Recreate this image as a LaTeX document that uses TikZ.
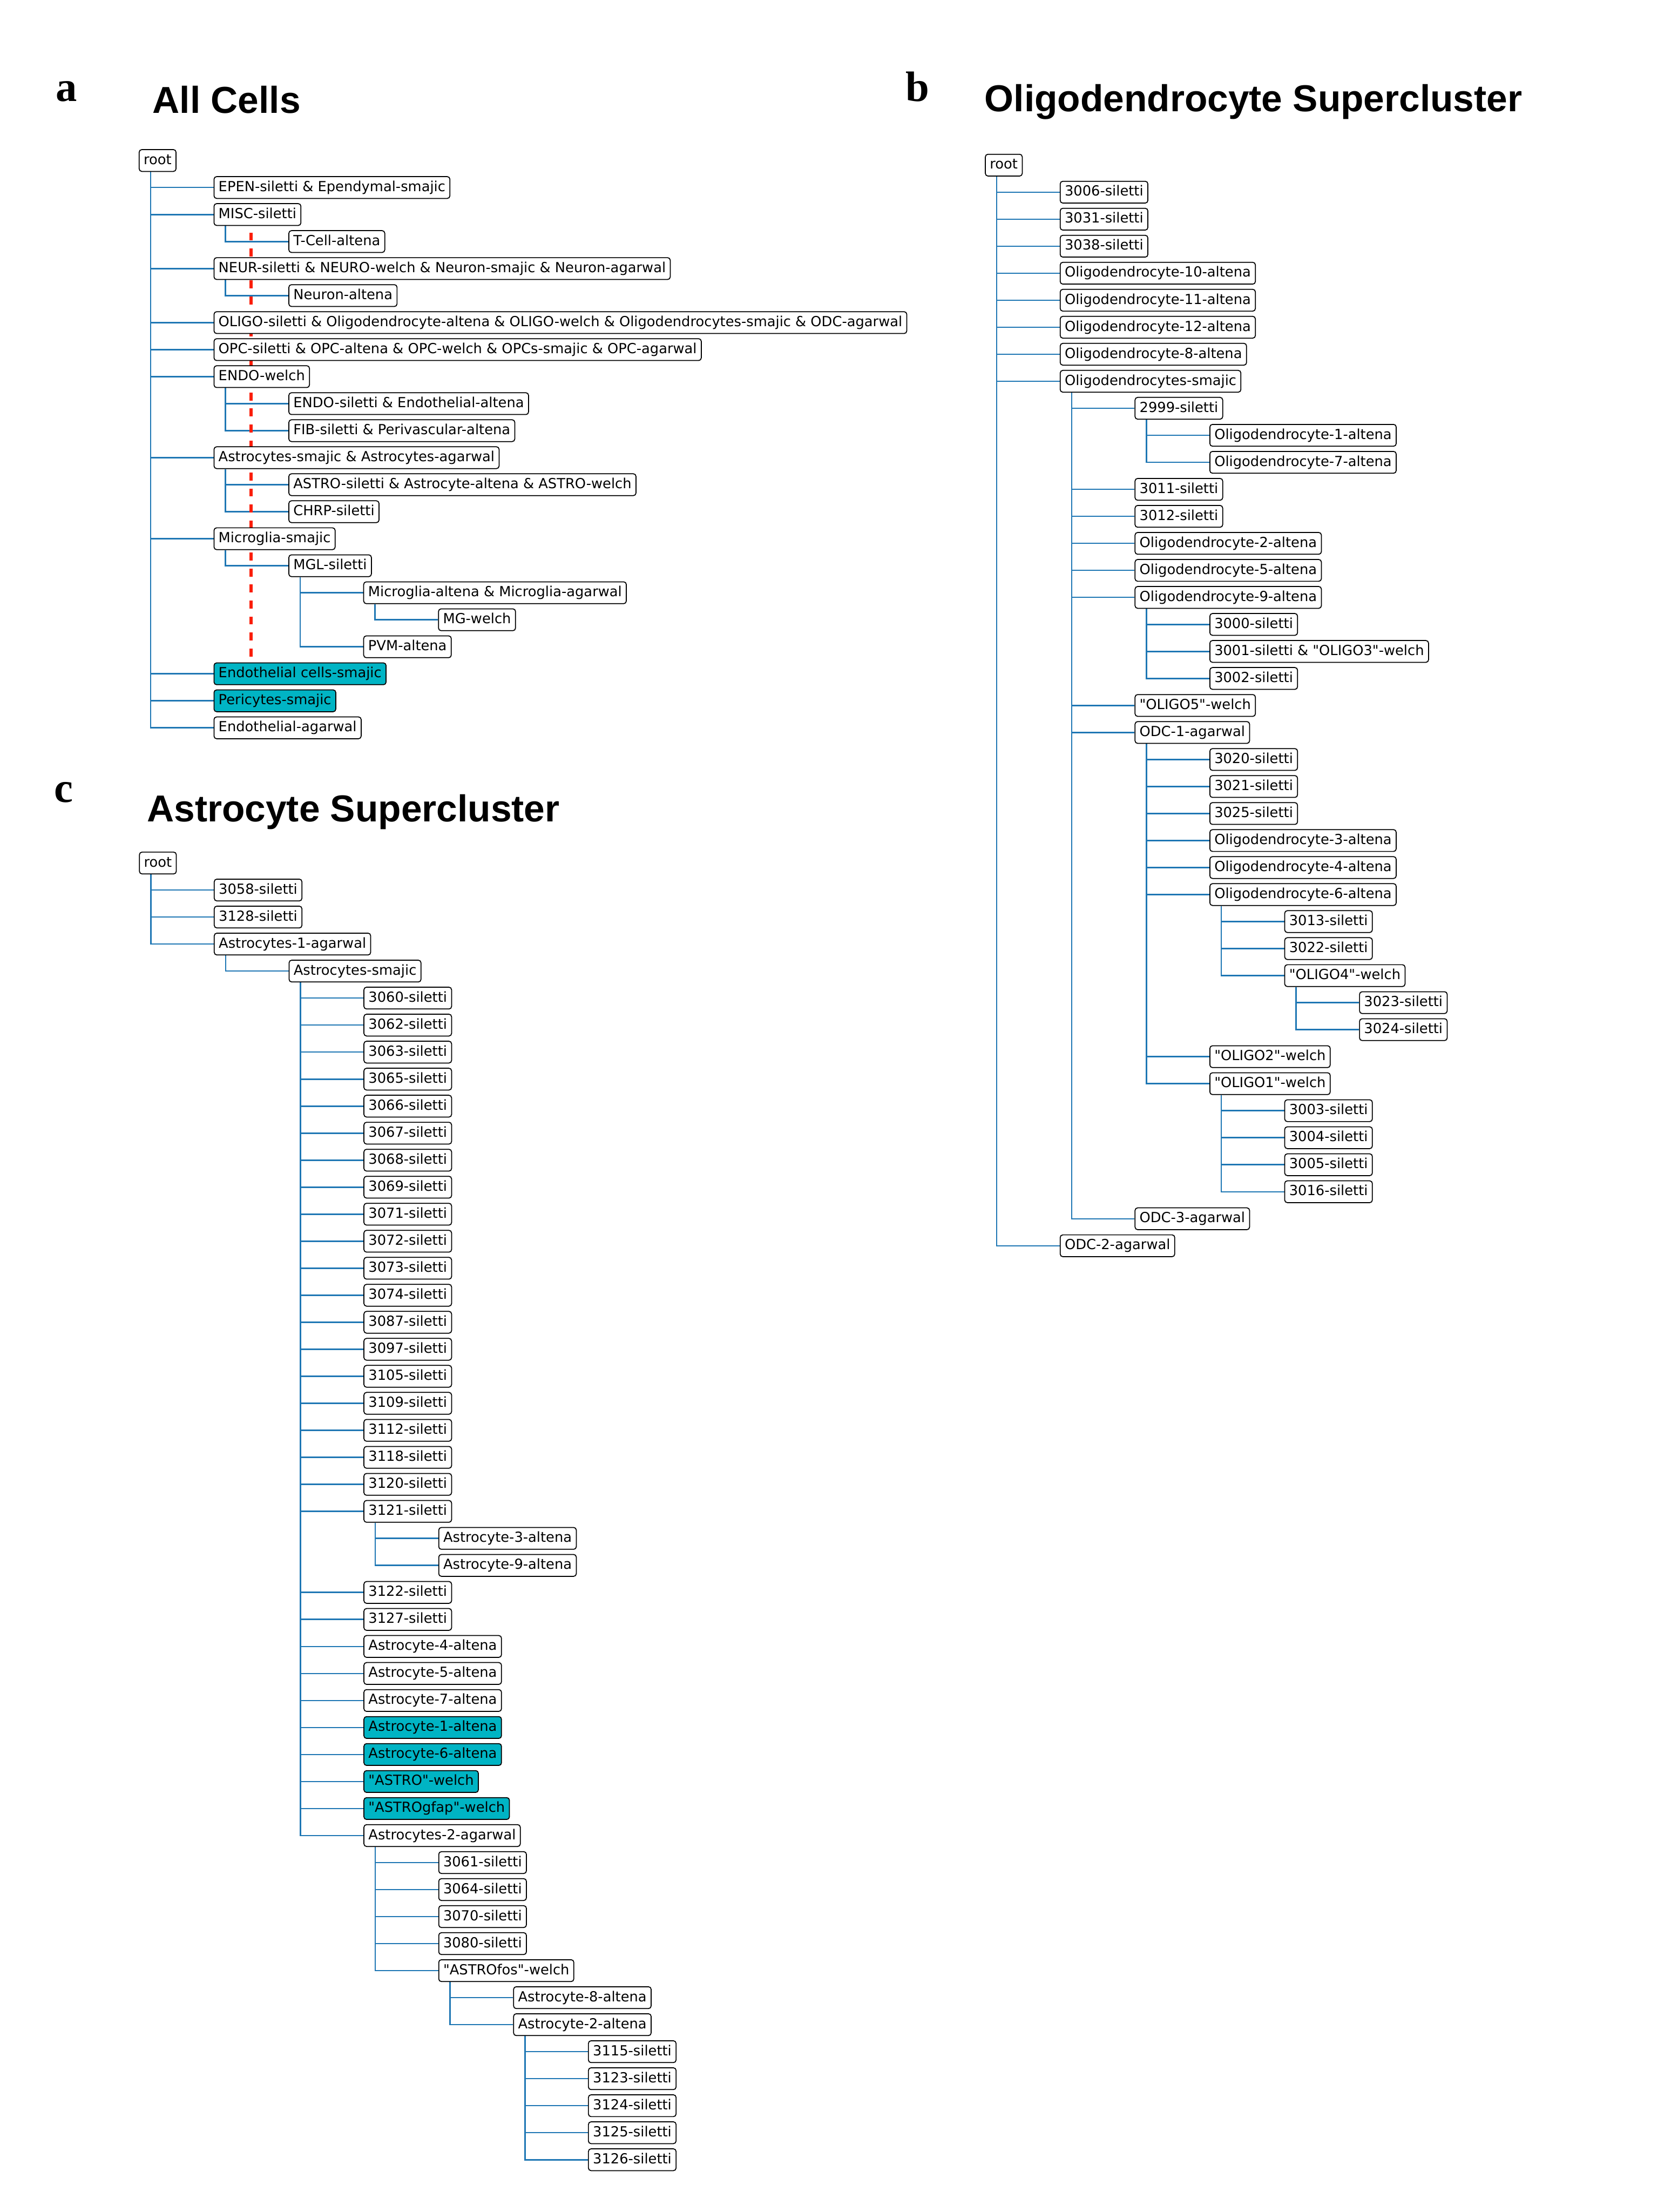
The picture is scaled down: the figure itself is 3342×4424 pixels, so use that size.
\documentclass[tikz,border=0pt]{standalone}
\usepackage{fontspec}
\newfontfamily\nodefont{DejaVu Sans}[Ligatures=TeXOff]
\newfontfamily\titlefont{Liberation Sans}
\newfontfamily\letterfont{Liberation Serif}
\definecolor{tabblue}{RGB}{31,119,180}
\definecolor{tealfill}{RGB}{0,180,196}
\definecolor{dashred}{RGB}{250,30,10}
\pgfdeclarelayer{back}\pgfdeclarelayer{bg}\pgfdeclarelayer{mid}
\pgfsetlayers{back,bg,mid,main}
\tikzset{
  tbox/.style={draw=black, line width=0.47pt, rounded corners=1.3pt, fill=white,
    anchor=west, inner xsep=2.25pt, inner ysep=0pt, minimum height=10.9pt,
    text height=5.56pt, text depth=1.74pt,
    font=\nodefont\fontsize{6.95}{8}\selectfont},
  hl/.style={fill=tealfill},
  conn/.style={draw=tabblue, line width=0.68pt},
  redline/.style={draw=dashred, line width=1.5pt, dash pattern=on 4pt off 4pt},
  ttl/.style={anchor=base west, inner sep=0pt, font=\titlefont\bfseries\fontsize{18.75}{22}\selectfont},
  ltr/.style={anchor=base west, inner sep=0pt, font=\letterfont\bfseries\fontsize{21.25}{24}\selectfont}
}
\newcommand\tnd[5][]{\node[tbox,#1] (#2) at ({\PX+149.7*#3},{\PY+54.03*#4}) {#5};}
\newcommand\cnx[2]{\draw[conn] ([xshift=5.925pt]#1.south west) |- (#2.west);}
\begin{document}
\begin{tikzpicture}[x=0.25pt,y=-0.25pt]
\begin{pgfonlayer}{back}
\fill[white] (0,0) rectangle (3342,4424);
\end{pgfonlayer}
\useasboundingbox (0,0) rectangle (3342,4424);
% ---------- letters and titles
\node[ltr] (la) at (111,202.8) {a};
\node[ltr] (lb) at (1811,202.6) {b};
\node[ltr] (lc) at (108,1604) {c};
\node[ttl] (ta) at (304.6,225.8) {All Cells};
\node[ttl] (tb) at (1969,222.8) {Oligodendrocyte Supercluster};
\node[ttl] (tc) at (293.4,1643) {Astrocyte Supercluster};
% ---------- panel a
\def\PX{277.5}\def\PY{321}
\tnd{a0}{0}{0}{root}
\tnd{a1}{1}{1}{EPEN-siletti \& Ependymal-smajic}
\tnd{a2}{1}{2}{MISC-siletti}
\tnd{a3}{2}{3}{T-Cell-altena}
\tnd{a4}{1}{4}{NEUR-siletti \& NEURO-welch \& Neuron-smajic \& Neuron-agarwal}
\tnd{a5}{2}{5}{Neuron-altena}
\tnd{a6}{1}{6}{OLIGO-siletti \& Oligodendrocyte-altena \& OLIGO-welch \& Oligodendrocytes-smajic \& ODC-agarwal}
\tnd{a7}{1}{7}{OPC-siletti \& OPC-altena \& OPC-welch \& OPCs-smajic \& OPC-agarwal}
\tnd{a8}{1}{8}{ENDO-welch}
\tnd{a9}{2}{9}{ENDO-siletti \& Endothelial-altena}
\tnd{a10}{2}{10}{FIB-siletti \& Perivascular-altena}
\tnd{a11}{1}{11}{Astrocytes-smajic \& Astrocytes-agarwal}
\tnd{a12}{2}{12}{ASTRO-siletti \& Astrocyte-altena \& ASTRO-welch}
\tnd{a13}{2}{13}{CHRP-siletti}
\tnd{a14}{1}{14}{Microglia-smajic}
\tnd{a15}{2}{15}{MGL-siletti}
\tnd{a16}{3}{16}{Microglia-altena \& Microglia-agarwal}
\tnd{a17}{4}{17}{MG-welch}
\tnd{a18}{3}{18}{PVM-altena}
\tnd[hl]{a19}{1}{19}{Endothelial cells-smajic}
\tnd[hl]{a20}{1}{20}{Pericytes-smajic}
\tnd{a21}{1}{21}{Endothelial-agarwal}
\coordinate (rtop) at (502,465);
\coordinate (rbot) at (502,1318);
% ---------- panel b
\def\PX{1970.3}\def\PY{330.3}
\tnd{b0}{0}{0}{root}
\tnd{b1}{1}{1}{3006-siletti}
\tnd{b2}{1}{2}{3031-siletti}
\tnd{b3}{1}{3}{3038-siletti}
\tnd{b4}{1}{4}{Oligodendrocyte-10-altena}
\tnd{b5}{1}{5}{Oligodendrocyte-11-altena}
\tnd{b6}{1}{6}{Oligodendrocyte-12-altena}
\tnd{b7}{1}{7}{Oligodendrocyte-8-altena}
\tnd{b8}{1}{8}{Oligodendrocytes-smajic}
\tnd{b9}{2}{9}{2999-siletti}
\tnd{b10}{3}{10}{Oligodendrocyte-1-altena}
\tnd{b11}{3}{11}{Oligodendrocyte-7-altena}
\tnd{b12}{2}{12}{3011-siletti}
\tnd{b13}{2}{13}{3012-siletti}
\tnd{b14}{2}{14}{Oligodendrocyte-2-altena}
\tnd{b15}{2}{15}{Oligodendrocyte-5-altena}
\tnd{b16}{2}{16}{Oligodendrocyte-9-altena}
\tnd{b17}{3}{17}{3000-siletti}
\tnd{b18}{3}{18}{3001-siletti \& "OLIGO3"-welch}
\tnd{b19}{3}{19}{3002-siletti}
\tnd{b20}{2}{20}{"OLIGO5"-welch}
\tnd{b21}{2}{21}{ODC-1-agarwal}
\tnd{b22}{3}{22}{3020-siletti}
\tnd{b23}{3}{23}{3021-siletti}
\tnd{b24}{3}{24}{3025-siletti}
\tnd{b25}{3}{25}{Oligodendrocyte-3-altena}
\tnd{b26}{3}{26}{Oligodendrocyte-4-altena}
\tnd{b27}{3}{27}{Oligodendrocyte-6-altena}
\tnd{b28}{4}{28}{3013-siletti}
\tnd{b29}{4}{29}{3022-siletti}
\tnd{b30}{4}{30}{"OLIGO4"-welch}
\tnd{b31}{5}{31}{3023-siletti}
\tnd{b32}{5}{32}{3024-siletti}
\tnd{b33}{3}{33}{"OLIGO2"-welch}
\tnd{b34}{3}{34}{"OLIGO1"-welch}
\tnd{b35}{4}{35}{3003-siletti}
\tnd{b36}{4}{36}{3004-siletti}
\tnd{b37}{4}{37}{3005-siletti}
\tnd{b38}{4}{38}{3016-siletti}
\tnd{b39}{2}{39}{ODC-3-agarwal}
\tnd{b40}{1}{40}{ODC-2-agarwal}
% ---------- panel c
\def\PX{278}\def\PY{1726}
\tnd{c0}{0}{0}{root}
\tnd{c1}{1}{1}{3058-siletti}
\tnd{c2}{1}{2}{3128-siletti}
\tnd{c3}{1}{3}{Astrocytes-1-agarwal}
\tnd{c4}{2}{4}{Astrocytes-smajic}
\tnd{c5}{3}{5}{3060-siletti}
\tnd{c6}{3}{6}{3062-siletti}
\tnd{c7}{3}{7}{3063-siletti}
\tnd{c8}{3}{8}{3065-siletti}
\tnd{c9}{3}{9}{3066-siletti}
\tnd{c10}{3}{10}{3067-siletti}
\tnd{c11}{3}{11}{3068-siletti}
\tnd{c12}{3}{12}{3069-siletti}
\tnd{c13}{3}{13}{3071-siletti}
\tnd{c14}{3}{14}{3072-siletti}
\tnd{c15}{3}{15}{3073-siletti}
\tnd{c16}{3}{16}{3074-siletti}
\tnd{c17}{3}{17}{3087-siletti}
\tnd{c18}{3}{18}{3097-siletti}
\tnd{c19}{3}{19}{3105-siletti}
\tnd{c20}{3}{20}{3109-siletti}
\tnd{c21}{3}{21}{3112-siletti}
\tnd{c22}{3}{22}{3118-siletti}
\tnd{c23}{3}{23}{3120-siletti}
\tnd{c24}{3}{24}{3121-siletti}
\tnd{c25}{4}{25}{Astrocyte-3-altena}
\tnd{c26}{4}{26}{Astrocyte-9-altena}
\tnd{c27}{3}{27}{3122-siletti}
\tnd{c28}{3}{28}{3127-siletti}
\tnd{c29}{3}{29}{Astrocyte-4-altena}
\tnd{c30}{3}{30}{Astrocyte-5-altena}
\tnd{c31}{3}{31}{Astrocyte-7-altena}
\tnd[hl]{c32}{3}{32}{Astrocyte-1-altena}
\tnd[hl]{c33}{3}{33}{Astrocyte-6-altena}
\tnd[hl]{c34}{3}{34}{"ASTRO"-welch}
\tnd[hl]{c35}{3}{35}{"ASTROgfap"-welch}
\tnd{c36}{3}{36}{Astrocytes-2-agarwal}
\tnd{c37}{4}{37}{3061-siletti}
\tnd{c38}{4}{38}{3064-siletti}
\tnd{c39}{4}{39}{3070-siletti}
\tnd{c40}{4}{40}{3080-siletti}
\tnd{c41}{4}{41}{"ASTROfos"-welch}
\tnd{c42}{5}{42}{Astrocyte-8-altena}
\tnd{c43}{5}{43}{Astrocyte-2-altena}
\tnd{c44}{6}{44}{3115-siletti}
\tnd{c45}{6}{45}{3123-siletti}
\tnd{c46}{6}{46}{3124-siletti}
\tnd{c47}{6}{47}{3125-siletti}
\tnd{c48}{6}{48}{3126-siletti}
% ---------- connectors
\begin{pgfonlayer}{bg}
\foreach \k in {1,2,4,6,7,8,11,14,19,20,21} {\cnx{a0}{a\k}}
\cnx{a2}{a3}
\cnx{a4}{a5}
\cnx{a8}{a9}\cnx{a8}{a10}
\cnx{a11}{a12}\cnx{a11}{a13}
\cnx{a14}{a15}
\cnx{a15}{a16}\cnx{a15}{a18}
\cnx{a16}{a17}
\foreach \k in {1,...,8,40} {\cnx{b0}{b\k}}
\foreach \k in {9,12,13,14,15,16,20,21,39} {\cnx{b8}{b\k}}
\cnx{b9}{b10}\cnx{b9}{b11}
\foreach \k in {17,18,19} {\cnx{b16}{b\k}}
\foreach \k in {22,...,27,33,34} {\cnx{b21}{b\k}}
\foreach \k in {28,29,30} {\cnx{b27}{b\k}}
\cnx{b30}{b31}\cnx{b30}{b32}
\foreach \k in {35,...,38} {\cnx{b34}{b\k}}
\foreach \k in {1,2,3} {\cnx{c0}{c\k}}
\cnx{c3}{c4}
\foreach \k in {5,...,24,27,28,29,30,31,32,33,34,35,36} {\cnx{c4}{c\k}}
\cnx{c24}{c25}\cnx{c24}{c26}
\foreach \k in {37,...,41} {\cnx{c36}{c\k}}
\cnx{c41}{c42}\cnx{c41}{c43}
\foreach \k in {44,...,48} {\cnx{c43}{c\k}}
\end{pgfonlayer}
\begin{pgfonlayer}{mid}
\draw[redline] (rtop) -- (rbot);
\end{pgfonlayer}
\end{tikzpicture}
\end{document}
